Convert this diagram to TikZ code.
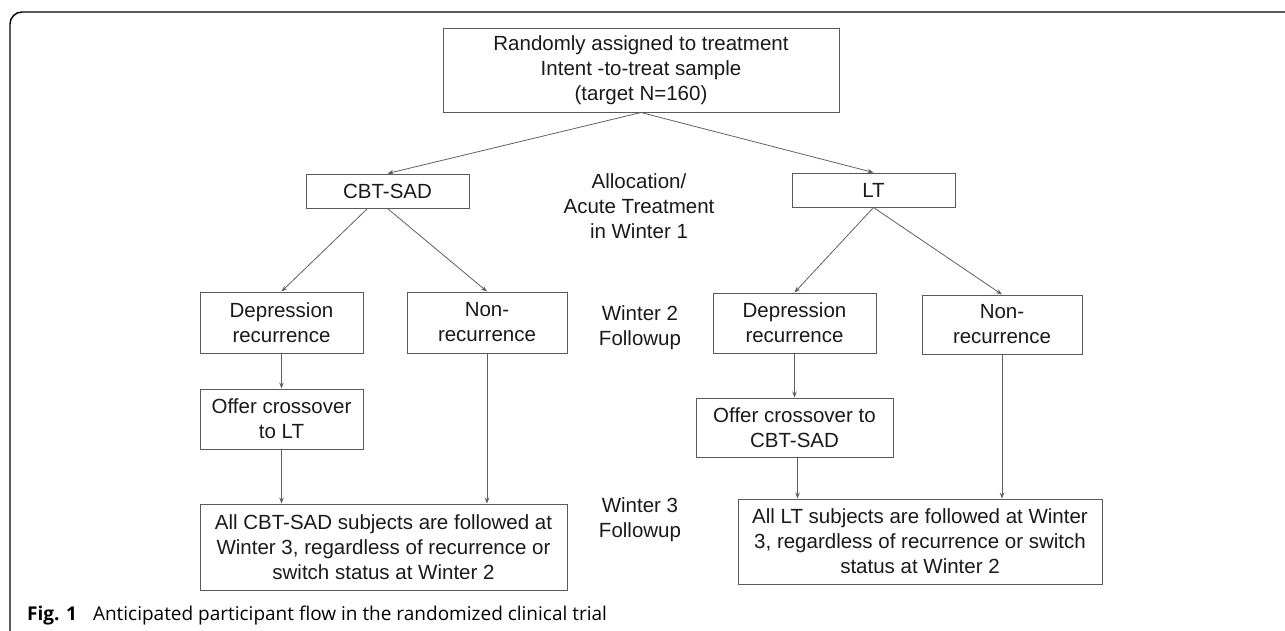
\documentclass[tikz,border=0pt]{standalone}
\usepackage{fontspec}
\setmainfont{Liberation Sans}
\newfontfamily\capfont{Open Sans}
\usetikzlibrary{arrows.meta}

\definecolor{boxgray}{HTML}{5A5A5A}
\definecolor{arrgray}{HTML}{606060}
\definecolor{txtblack}{HTML}{1A1A1A}

\begin{document}
\begin{tikzpicture}[x=1pt, y=-1pt,
    font=\fontsize{20.5}{25}\selectfont,
    box/.style={draw=boxgray, line width=1pt, text=txtblack, align=center, inner sep=0pt},
    lbl/.style={text=txtblack, align=center, inner sep=0pt},
    arr/.style={draw=arrgray, line width=0.8pt, -{Stealth[length=6pt, width=4.5pt]}}]
      \useasboundingbox (0,0) rectangle (1285,630);

      % 1. figure frame
      \draw[line width=1.4pt, rounded corners=12pt] (10,640) -- (10,12) -- (1300,12);

      % 2. random assignment
      \node[box, minimum width=396pt, minimum height=84pt] (rand) at (641,70)
        {Randomly assigned to treatment\\Intent -to-treat sample\\(target N=160)};

      % 3. the two arms in winter 1
      \node[box, minimum width=163pt, minimum height=34pt] (cbt) at (387.5,191) {CBT-SAD};
      \node[box, minimum width=163pt, minimum height=34pt] (lt) at (873.5,190) {LT};
      \node[lbl] (alloc) at (639,206) {Allocation/\\Acute Treatment\\in Winter 1};

      % 4. winter 2 outcomes
      \node[box, minimum width=163pt, minimum height=61pt] (depL) at (281.5,322.5) {Depression\\recurrence};
      \node[box, minimum width=160pt, minimum height=61pt] (nonL) at (487,322.5) {Non-\\recurrence};
      \node[box, minimum width=163pt, minimum height=60pt] (depR) at (794.5,323) {Depression\\recurrence};
      \node[box, minimum width=160pt, minimum height=59pt] (nonR) at (1002,324.5) {Non-\\recurrence};
      \node[lbl] (w2) at (640,327.5) {Winter 2\\Followup};

      % 5. crossover offers
      \node[box, minimum width=163pt, minimum height=60pt] (offL) at (281.5,419) {Offer crossover\\to LT};
      \node[box, minimum width=197pt, minimum height=59pt] (offR) at (794.5,427.5) {Offer crossover to\\CBT-SAD};

      % 6. winter 3 followup
      \node[box, minimum width=367pt, minimum height=86pt] (botL) at (383.5,547)
        {All CBT-SAD subjects are followed at\\Winter 3, regardless of recurrence or\\switch status at Winter 2};
      \node[box, minimum width=364pt, minimum height=85pt] (botR) at (920,541.5)
        {All LT subjects are followed at Winter\\3, regardless of recurrence or switch\\status at Winter 2};
      \node[lbl] (w3) at (640,520) {Winter 3\\Followup};

      % 7. arrows
      \draw[arr] (rand.south) -- (cbt.north);
      \draw[arr] (rand.south) -- (lt.north);
      \draw[arr] ([xshift=-20pt]cbt.south) -- (depL.north);
      \draw[arr] (cbt.south) -- (nonL.north);
      \draw[arr] (lt.south) -- (depR.north);
      \draw[arr] (lt.south) -- (nonR.north);
      \draw[arr] (depL.south) -- (offL.north);
      \draw[arr] (depR.south) -- (offR.north);
      \draw[arr] (offL.south) -- (offL.south |- botL.north);
      \draw[arr] (nonL.south) -- (nonL.south |- botL.north);
      \draw[arr] ([xshift=3pt]offR.south) -- ([xshift=3pt]offR.south |- botR.north);
      \draw[arr] (nonR.south) -- (nonR.south |- botR.north);

      % 8. caption
      \node[anchor=base west, inner sep=0pt, font=\capfont\fontsize{19}{22}\selectfont] (cap) at (27,620)
        {\textbf{Fig. 1}\hspace{16pt}Anticipated participant flow in the randomized clinical trial};
\end{tikzpicture}
\end{document}
